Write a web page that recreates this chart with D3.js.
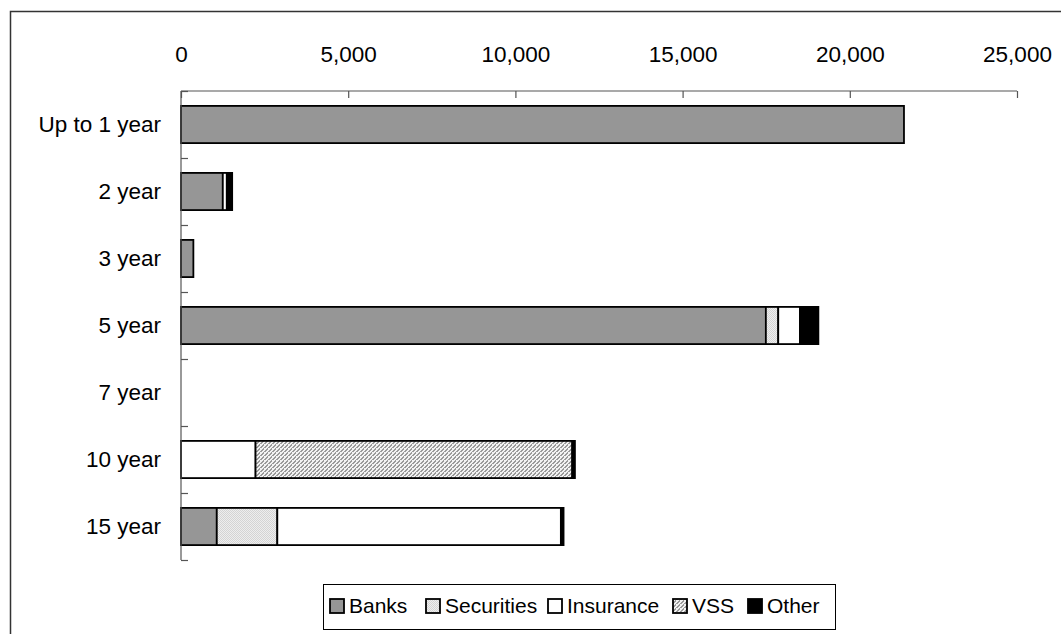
<!DOCTYPE html>
<html>
<head>
<meta charset="utf-8">
<script src="https://cdn.jsdelivr.net/npm/d3@7"></script>
<style>
  html, body { margin: 0; padding: 0; background: #fff; }
  svg { display: block; font-family: "Liberation Sans", Arial, sans-serif; }
</style>
</head>
<body>
<svg id="chart" width="1061" height="634"></svg>
<script>
// ---- data ----
const categories = ["Up to 1 year", "2 year", "3 year", "5 year", "7 year", "10 year", "15 year"];
const seriesNames = ["Banks", "Securities", "Insurance", "VSS", "Other"];
const banks      = [21620, 1250, 370, 17490, 0, 0, 1070];
const securities = [0, 0, 0, 370, 0, 0, 1810];
const insurance  = [0, 120, 0, 650, 0, 2230, 8480];
const vss        = [0, 0, 0, 0, 0, 9470, 0];
const other      = [0, 160, 0, 550, 0, 80, 80];
const xTicks     = [0, 5000, 10000, 15000, 20000, 25000];

// ---- layout constants ----
const legendItemX = [330, 426, 548, 673, 748];

const svg = d3.select("#chart");

// patterns
const defs = svg.append("defs");
const pSec = defs.append("pattern").attr("id", "pSec").attr("patternUnits", "userSpaceOnUse")
  .attr("width", 2).attr("height", 2);
pSec.append("rect").attr("width", 2).attr("height", 2).attr("fill", "#eeeeee");
pSec.append("rect").attr("width", 1).attr("height", 1).attr("fill", "#d4d4d4");
pSec.append("rect").attr("x", 1).attr("y", 1).attr("width", 1).attr("height", 1).attr("fill", "#d4d4d4");

const pVss = defs.append("pattern").attr("id", "pVss").attr("patternUnits", "userSpaceOnUse")
  .attr("width", 4).attr("height", 4);
pVss.append("rect").attr("width", 4).attr("height", 4).attr("fill", "#f2f2f2");
[0, 1, 2, 3].forEach(i => {
  pVss.append("rect").attr("x", (3 - i)).attr("y", i).attr("width", 2).attr("height", 1).attr("fill", "#9a9a9a");
  if (i === 3) pVss.append("rect").attr("x", 3).attr("y", 0).attr("width", 1).attr("height", 1).attr("fill", "#9a9a9a");
});
pVss.append("rect").attr("x", 0).attr("y", 3).attr("width", 1).attr("height", 1).attr("fill", "#9a9a9a");

const fills = {
  Banks: "#969696",
  Securities: "url(#pSec)",
  Insurance: "#ffffff",
  VSS: "url(#pVss)",
  Other: "#000000"
};

// outer border (extends beyond the picture on the right and bottom)
svg.append("rect").attr("x", 10.5).attr("y", 11.5).attr("width", 1100).attr("height", 700)
  .attr("fill", "none").attr("stroke", "#333").attr("stroke-width", 1.5);

// scales
const x = d3.scaleLinear().domain([0, 25000]).range([181, 1017]);
const y = d3.scaleBand().domain(categories).range([91, 560]).paddingInner(0.445).paddingOuter(0.2225);
const yb = d3.scaleLinear().domain([0, categories.length]).range([91, 560]);

// stacked data
const rows = categories.map((c, i) => ({
  cat: c, Banks: banks[i], Securities: securities[i], Insurance: insurance[i], VSS: vss[i], Other: other[i]
}));
const stacked = d3.stack().keys(seriesNames)(rows);

// bars
const gBars = svg.append("g");
stacked.forEach(layer => {
  gBars.append("g").selectAll("rect")
    .data(layer.filter(d => d[1] - d[0] > 0))
    .join("rect")
    .attr("x", d => x(d[0]))
    .attr("y", d => y(d.data.cat))
    .attr("width", d => x(d[1]) - x(d[0]))
    .attr("height", y.bandwidth())
    .attr("fill", fills[layer.key])
    .attr("stroke", "#000")
    .attr("stroke-width", 1.8);
});

// top axis
const gx = svg.append("g").attr("transform", "translate(0,91)")
  .call(d3.axisTop(x).tickValues(xTicks).tickSize(-7).tickPadding(29).tickFormat(d3.format(",")));
gx.selectAll("path, line").attr("stroke", "#555").attr("stroke-width", 1.2);
gx.select(".domain").attr("d", `M${x(0)},0H${x(25000)}`);
gx.selectAll("text").attr("font-size", 22.5).attr("fill", "#000").attr("font-family", "Liberation Sans, Arial, sans-serif");

// left axis: boundary ticks
const gyb = svg.append("g").attr("transform", `translate(${x(0)},0)`)
  .call(d3.axisLeft(yb).tickValues(d3.range(categories.length + 1)).tickSize(-7).tickFormat(""));
gyb.selectAll("path, line").attr("stroke", "#555").attr("stroke-width", 1.2);
gyb.select(".domain").attr("d", `M0,${yb(0)}V${yb(categories.length)}`);

// left axis: labels
const gy = svg.append("g").attr("transform", `translate(${x(0)},0)`)
  .call(d3.axisLeft(y).tickSize(0).tickPadding(20));
gy.select(".domain").remove();
gy.selectAll("text").attr("font-size", 22.5).attr("fill", "#000").attr("font-family", "Liberation Sans, Arial, sans-serif");

// legend
const lg = svg.append("g");
lg.append("rect").attr("x", 323.5).attr("y", 584.5).attr("width", 512).attr("height", 45)
  .attr("fill", "#fff").attr("stroke", "#000").attr("stroke-width", 1);
seriesNames.forEach((name, i) => {
  const lx = legendItemX[i];
  lg.append("rect").attr("x", lx).attr("y", 599).attr("width", 14).attr("height", 14)
    .attr("fill", fills[name]).attr("stroke", "#000").attr("stroke-width", 1.8);
  lg.append("text").attr("x", lx + 19).attr("y", 612.5)
    .attr("font-size", 21).attr("fill", "#000").text(name);
});
</script>
</body>
</html>
